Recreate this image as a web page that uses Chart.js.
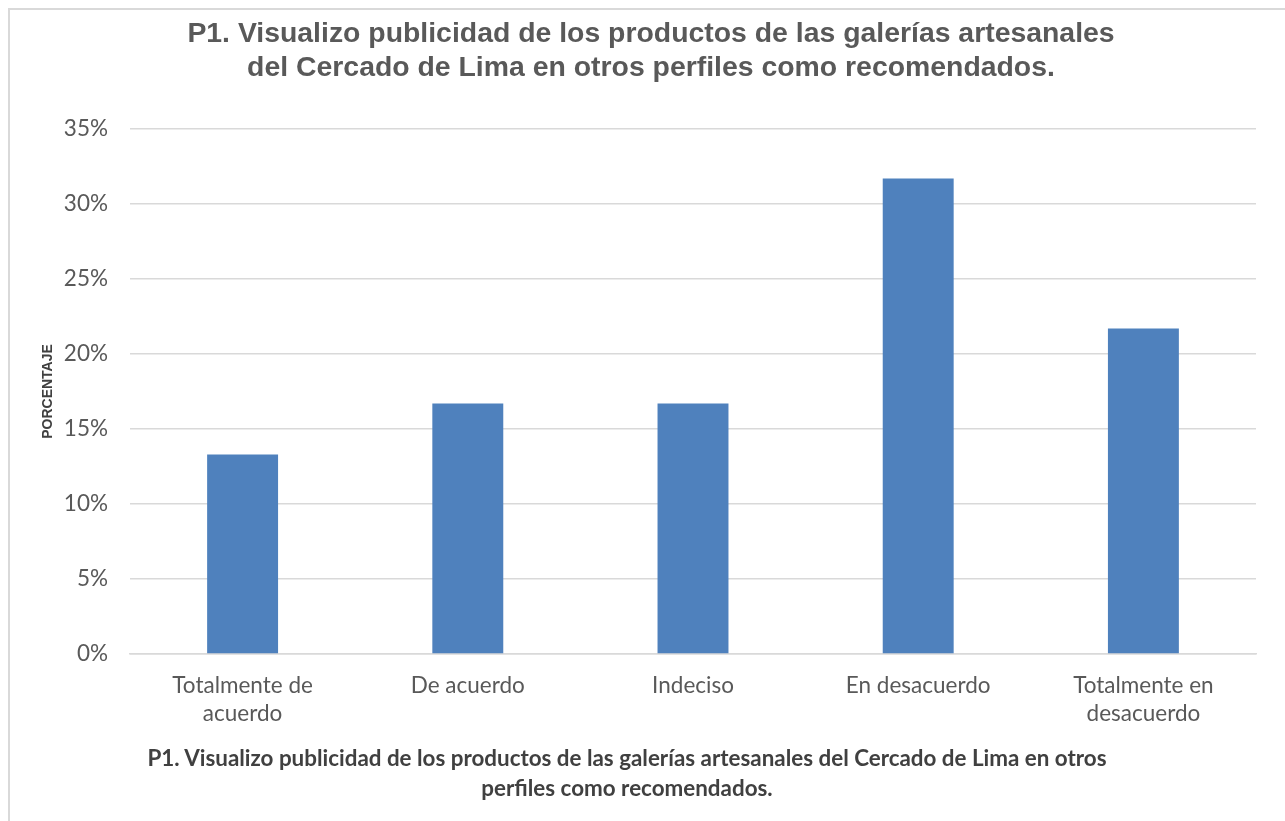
<!DOCTYPE html>
<html>
<head>
<meta charset="utf-8">
<script src="https://cdn.jsdelivr.net/npm/chart.js@4"></script>
<style>
  html, body { margin: 0; padding: 0; background: #fff; }
  #wrap { position: relative; width: 1285px; height: 821px; overflow: hidden; }
  #frame { position: absolute; left: 8px; top: 8px; width: 1320px; height: 860px; border: 2px solid #d9d9d9; box-sizing: border-box; }
  #chart { position: absolute; left: 0; top: 0; }
  #titulo { position: absolute; left: 0; top: 15px; width: 1302px; text-align: center;
            font: bold 28.4px "Liberation Sans", Arial, sans-serif; line-height: 34px; color: #595959; }
  #nota { position: absolute; left: 0; top: 743px; width: 1254px; text-align: center;
          font: bold 22.4px Lato, "Liberation Sans", sans-serif; line-height: 30px; color: #404040; }
</style>
</head>
<body>
<div id="wrap">
  <div id="frame"></div>
  <canvas id="chart" width="1285" height="821"></canvas>
  <div id="titulo">P1. Visualizo publicidad de los productos de las galerías artesanales<br>del Cercado de Lima en otros perfiles como recomendados.</div>
  <div id="nota">P1. Visualizo publicidad de los productos de las galerías artesanales del Cercado de Lima en otros<br>perfiles como recomendados.</div>
</div>
<script>
// categorías de respuesta y porcentajes
const categorias = [
  ['Totalmente de', 'acuerdo'],
  'De acuerdo',
  'Indeciso',
  'En desacuerdo',
  ['Totalmente en', 'desacuerdo']
];
const porcentajes = [13.3, 16.7, 16.7, 31.7, 21.7];
const ticksY = [0, 5, 10, 15, 20, 25, 30, 35];

const ctx = document.getElementById('chart').getContext('2d');
new Chart(ctx, {
  type: 'bar',
  data: {
    labels: categorias,
    datasets: [{
      data: porcentajes,
      backgroundColor: '#4f81bd',
      borderColor: '#4f81bd',
      borderWidth: 0,
      categoryPercentage: 1,
      barPercentage: 0.315
    }]
  },
  options: {
    responsive: false,
    animation: false,
    layout: { padding: { left: 0, right: 29, top: 129, bottom: 0 } },
    plugins: {
      legend: { display: false },
      tooltip: { enabled: false }
    },
    scales: {
      x: {
        grid: { display: false, drawTicks: false },
        border: { color: '#d9d9d9', width: 1.5 },
        ticks: {
          color: '#595959',
          padding: 18,
          maxRotation: 0,
          autoSkip: false,
          font: { family: 'Lato', size: 22.5, lineHeight: 1.25 }
        },
        afterFit: function(scale) { scale.height = 167; }
      },
      y: {
        min: 0,
        max: 35,
        afterBuildTicks: function(scale) {
          scale.ticks = ticksY.map(v => ({ value: v }));
        },
        grid: { color: '#d9d9d9', lineWidth: 1.5, drawTicks: false },
        border: { display: false },
        ticks: {
          color: '#595959',
          padding: 22,
          font: { family: 'Lato', size: 22.5 },
          callback: v => v + '%'
        },
        title: {
          display: true,
          text: 'PORCENTAJE',
          color: '#404040',
          padding: { top: 40, bottom: 0 },
          font: { family: 'Liberation Sans', size: 14, weight: 'bold' }
        },
        afterFit: function(scale) { scale.width = 130; }
      }
    }
  }
});
</script>
</body>
</html>
